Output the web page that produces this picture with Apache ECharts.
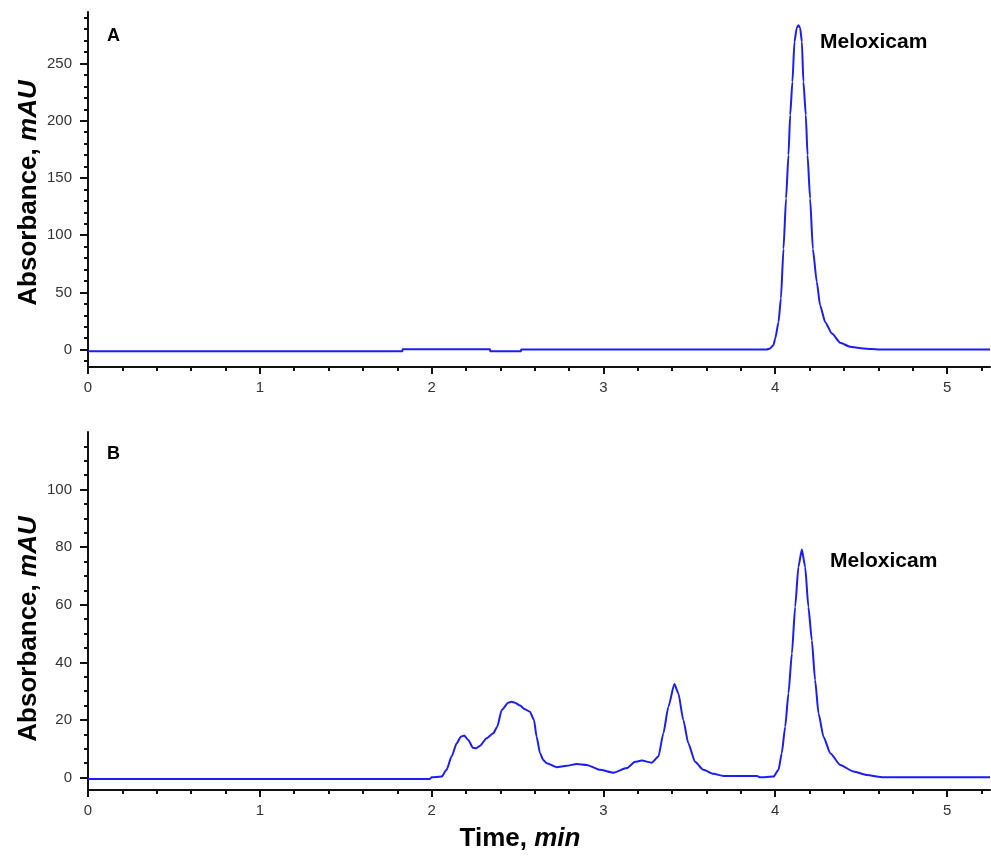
<!DOCTYPE html>
<html>
<head>
<meta charset="utf-8">
<script src="https://cdn.jsdelivr.net/npm/echarts@6/dist/echarts.min.js"></script>
<style>html,body{margin:0;padding:0;background:#fff;}#c{width:991px;height:861px;}</style>
</head>
<body>
<div id="c"></div>
<script>
// Panel A: time (min) and absorbance (mAU)
const timeA = [0, 1.83, 1.831, 2.34, 2.341, 2.52, 2.521, 3.95, 3.97, 3.99, 4.0, 4.019, 4.033, 4.048, 4.063, 4.077, 4.087, 4.10, 4.112, 4.125, 4.135, 4.145, 4.155, 4.164, 4.178, 4.188, 4.203, 4.219, 4.242, 4.261, 4.291, 4.33, 4.378, 4.436, 4.5, 4.56, 4.61, 5.25];
const absA = [-1.5, -1.5, 0.3, 0.3, -1.5, -1.5, 0, 0, 1, 4, 9.6, 24, 44.6, 88, 132, 170, 205, 234, 269, 281, 283.5, 281, 269, 234, 205, 170, 132, 88, 59, 38.7, 24, 14, 6, 2.5, 1.2, 0.5, 0, 0];
// Panel B
const timeB = [0, 1.99, 2.0, 2.058, 2.087, 2.116, 2.146, 2.17, 2.19, 2.213, 2.24, 2.26, 2.281, 2.32, 2.359, 2.382, 2.408, 2.446, 2.466, 2.485, 2.515, 2.543, 2.572, 2.596, 2.611, 2.631, 2.65, 2.67, 2.728, 2.786, 2.845, 2.903, 2.98, 3.058, 3.136, 3.184, 3.223, 3.281, 3.32, 3.349, 3.378, 3.413, 3.436, 3.465, 3.494, 3.533, 3.582, 3.64, 3.698, 3.893, 3.912, 3.99, 4.019, 4.038, 4.058, 4.077, 4.097, 4.116, 4.135, 4.155, 4.174, 4.193, 4.213, 4.232, 4.252, 4.281, 4.32, 4.378, 4.456, 4.533, 4.63, 5.25];
const absB = [-0.45, -0.45, 0.1, 0.35, 2.7, 7.3, 11.9, 14.2, 14.6, 13.1, 10.4, 10.2, 11, 13.7, 15.4, 17.7, 23.5, 26, 26.3, 26, 25, 23.7, 22.9, 20, 14.2, 8.5, 6.1, 5, 3.6, 4.1, 4.75, 4.4, 2.7, 1.7, 3.3, 5.5, 5.9, 5.2, 7.3, 15.4, 24.6, 32.5, 29.3, 20, 11.9, 5.5, 2.7, 1.3, 0.6, 0.6, 0.1, 0.35, 2.7, 8.5, 17.7, 29.3, 43.1, 59.3, 73.2, 79.2, 73.2, 59.3, 47.7, 33.9, 22.3, 14.2, 8.5, 4.4, 2.1, 0.9, 0.1, 0.1];

// Tick values
const xMajor = [0, 1, 2, 3, 4, 5];
const xMinor = [0.2, 0.4, 0.6, 0.8, 1.2, 1.4, 1.6, 1.8, 2.2, 2.4, 2.6, 2.8, 3.2, 3.4, 3.6, 3.8, 4.2, 4.4, 4.6, 4.8, 5.2];
const yMajorA = [0, 50, 100, 150, 200, 250];
const yMinorA = [-10, 10, 20, 30, 40, 60, 70, 80, 90, 110, 120, 130, 140, 160, 170, 180, 190, 210, 220, 230, 240, 260, 270, 280, 290];
const yMajorB = [0, 20, 40, 60, 80, 100];
const yMinorB = [5, 10, 15, 25, 30, 35, 45, 50, 55, 65, 70, 75, 85, 90, 95, 105, 110, 115];

const xRange = [0, 5.25];
const yRangeA = [-15.2, 295];
const yRangeB = [-4.3, 120];

const zip = (a, b) => a.map((t, i) => [t, b[i]]);
const FONT = '"Liberation Sans", Arial, sans-serif';
const AX = '#111';

function xAxes(gi) {
  return [
    { type: 'value', gridIndex: gi, position: 'bottom', min: xRange[0], max: xRange[1],
      axisLine: { show: true, onZero: false, lineStyle: { color: AX, width: 2 } },
      axisTick: { show: true, customValues: xMajor, length: 7, lineStyle: { color: AX, width: 2 } },
      axisLabel: { customValues: xMajor, margin: 13, color: '#333', fontSize: 15, fontFamily: FONT },
      splitLine: { show: false } },
    { type: 'value', gridIndex: gi, position: 'bottom', min: xRange[0], max: xRange[1],
      axisLine: { show: false, onZero: false },
      axisTick: { show: true, customValues: xMinor, length: 4, lineStyle: { color: AX, width: 2 } },
      axisLabel: { show: false }, splitLine: { show: false } }
  ];
}
function yAxes(gi, range, major, minor) {
  return [
    { type: 'value', gridIndex: gi, position: 'left', min: range[0], max: range[1],
      axisLine: { show: true, onZero: false, lineStyle: { color: AX, width: 2 } },
      axisTick: { show: true, customValues: major, length: 8, lineStyle: { color: AX, width: 2 } },
      axisLabel: { customValues: major, margin: 16, color: '#333', fontSize: 15, fontFamily: FONT },
      splitLine: { show: false } },
    { type: 'value', gridIndex: gi, position: 'left', min: range[0], max: range[1],
      axisLine: { show: false, onZero: false },
      axisTick: { show: true, customValues: minor, length: 4, lineStyle: { color: AX, width: 2 } },
      axisLabel: { show: false }, splitLine: { show: false } }
  ];
}

const chart = echarts.init(document.getElementById('c'), null, { renderer: 'canvas' });
const titleRich = {
  b: { font: 'bold 26px ' + FONT, fill: '#000' },
  i: { font: 'italic bold 26px ' + FONT, fill: '#000' }
};
chart.setOption({
  animation: false,
  backgroundColor: '#fff',
  grid: [
    { left: 88, top: 12, width: 902, height: 355 },
    { left: 88, top: 432, width: 902, height: 358 }
  ],
  xAxis: [...xAxes(0), ...xAxes(1)],
  yAxis: [...yAxes(0, yRangeA, yMajorA, yMinorA), ...yAxes(1, yRangeB, yMajorB, yMinorB)],
  series: [
    { type: 'line', xAxisIndex: 0, yAxisIndex: 0, data: zip(timeA, absA), showSymbol: false, symbol: 'none',
      smooth: 0.2, smoothMonotone: 'x', lineStyle: { color: '#1c1cf5', width: 2 } },
    { type: 'line', xAxisIndex: 2, yAxisIndex: 2, data: zip(timeB, absB), showSymbol: false, symbol: 'none',
      smooth: 0.2, smoothMonotone: 'x', lineStyle: { color: '#1c1cf5', width: 2 } }
  ],
  graphic: [
    { type: 'text', x: 107, y: 27, style: { text: 'A', font: 'bold 18px ' + FONT, fill: '#000' } },
    { type: 'text', x: 107, y: 445, style: { text: 'B', font: 'bold 18px ' + FONT, fill: '#000' } },
    { type: 'text', x: 820, y: 32, style: { text: 'Meloxicam', font: 'bold 21px ' + FONT, fill: '#000' } },
    { type: 'text', x: 830, y: 551, style: { text: 'Meloxicam', font: 'bold 21px ' + FONT, fill: '#000' } },
    { type: 'text', x: 29, y: 193, rotation: Math.PI / 2,
      style: { text: '{b|Absorbance, }{i|mAU}', rich: titleRich, align: 'center', verticalAlign: 'middle' } },
    { type: 'text', x: 29, y: 629, rotation: Math.PI / 2,
      style: { text: '{b|Absorbance, }{i|mAU}', rich: titleRich, align: 'center', verticalAlign: 'middle' } },
    { type: 'text', x: 520, y: 839,
      style: { text: '{b|Time, }{i|min}', rich: titleRich, align: 'center', verticalAlign: 'middle' } }
  ]
});
</script>
</body>
</html>
